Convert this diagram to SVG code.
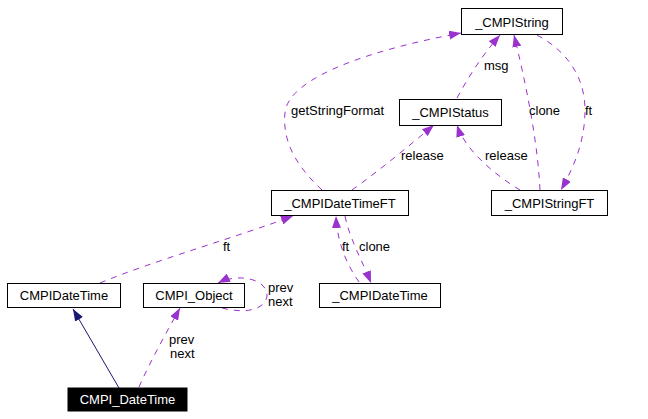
<svg xmlns="http://www.w3.org/2000/svg" width="648" height="419" viewBox="0 0 648 419">
<style>
.node rect{fill:#fff;stroke:#000;stroke-width:1}
.node text{font-family:"Liberation Sans",Arial,sans-serif;font-size:13px;text-anchor:middle;fill:#000}
.hl rect{fill:#000}
.hl text{fill:#fff}
.e{fill:none;stroke:#9a32cd;stroke-width:1;stroke-dasharray:6,6}
.inh{fill:none;stroke:#191970;stroke-width:1}
.lbl{font-family:"Liberation Sans",Arial,sans-serif;font-size:13px;fill:#000}
</style>
<defs>
<marker id="ap" viewBox="0 0 12 9" refX="12" refY="4.5" markerWidth="12" markerHeight="9" markerUnits="userSpaceOnUse" orient="auto">
<path d="M0,0 L12,4.5 L0,9 z" fill="#9a32cd" stroke="none"/>
</marker>
<marker id="an" viewBox="0 0 12 9" refX="12" refY="4.5" markerWidth="12" markerHeight="9" markerUnits="userSpaceOnUse" orient="auto">
<path d="M0,0 L12,4.5 L0,9 z" fill="#191970" stroke="none"/>
</marker>
</defs>
<rect width="648" height="419" fill="#fff"/>
<g id="connectors">
<path class="inh" d="M119,388 L73,309" marker-end="url(#an)"/>
<path class="e" d="M139,387 C150,362 165,335 180,308" marker-end="url(#ap)"/>
<path class="e" d="M222,308 C245,314 265,310 267,296 C268,280 240,272 218,283" marker-end="url(#ap)"/>
<path class="e" d="M100,283 C150,262 240,236 293,216" marker-end="url(#ap)"/>
<path class="e" d="M359,282 C345,262 337,240 336,216" marker-end="url(#ap)"/>
<path class="e" d="M345,216 C350,240 362,260 371,283" marker-end="url(#ap)"/>
<path class="e" d="M352,190 C380,170 410,145 434,125" marker-end="url(#ap)"/>
<path class="e" d="M520,190 C495,175 465,150 457,125" marker-end="url(#ap)"/>
<path class="e" d="M322,190 C295,165 282,140 285,112 C290,75 380,48 461,33" marker-end="url(#ap)"/>
<path class="e" d="M457,98 C468,78 480,58 500,35" marker-end="url(#ap)"/>
<path class="e" d="M540,190 C538,150 530,100 514,35" marker-end="url(#ap)"/>
<path class="e" d="M537,35 C565,50 585,75 585,110 C585,140 575,165 561,190" marker-end="url(#ap)"/>
<text class="lbl" x="291" y="115">getStringFormat</text>
<text class="lbl" x="484" y="70">msg</text>
<text class="lbl" x="529" y="115">clone</text>
<text class="lbl" x="585" y="115">ft</text>
<text class="lbl" x="401" y="160">release</text>
<text class="lbl" x="485" y="160">release</text>
<text class="lbl" x="223" y="251">ft</text>
<text class="lbl" x="342" y="251">ft</text>
<text class="lbl" x="359" y="251">clone</text>
<text class="lbl" x="268" y="292">prev</text>
<text class="lbl" x="268" y="306">next</text>
<text class="lbl" x="169" y="344">prev</text>
<text class="lbl" x="170" y="358">next</text>
</g>
<g id="n_CMPIString" class="node"><rect x="461.5" y="8.5" width="101" height="26"/><text x="512" y="26.5">_CMPIString</text></g>
<g id="n_CMPIStatus" class="node"><rect x="399.5" y="99.5" width="102" height="26"/><text x="450.5" y="117">_CMPIStatus</text></g>
<g id="n_CMPIDateTimeFT" class="node"><rect x="271.5" y="190.5" width="137" height="25"/><text x="340" y="207.5">_CMPIDateTimeFT</text></g>
<g id="n_CMPIStringFT" class="node"><rect x="491.5" y="190.5" width="116" height="25"/><text x="549.5" y="207.5">_CMPIStringFT</text></g>
<g id="nCMPIDateTime" class="node"><rect x="7.5" y="283.5" width="113" height="24"/><text x="64" y="300">CMPIDateTime</text></g>
<g id="nCMPI_Object" class="node"><rect x="143.5" y="283.5" width="101" height="24"/><text x="194" y="300">CMPI_Object</text></g>
<g id="n_CMPIDateTime" class="node"><rect x="319.5" y="283.5" width="121" height="24"/><text x="380" y="300">_CMPIDateTime</text></g>
<g id="nCMPI_DateTime" class="node hl"><rect x="68" y="388" width="119" height="23"/><text x="127.5" y="404">CMPI_DateTime</text></g>
</svg>
